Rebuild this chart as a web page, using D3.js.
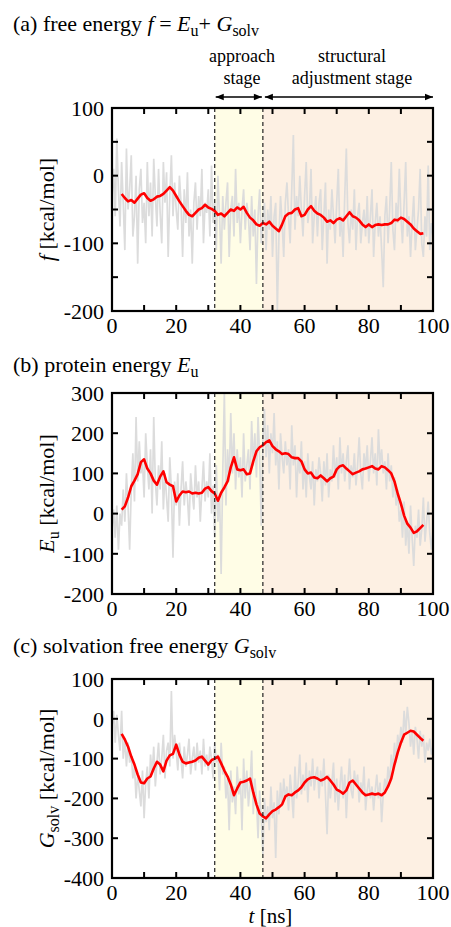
<!DOCTYPE html>
<html>
<head>
<meta charset="utf-8">
<script src="https://cdn.jsdelivr.net/npm/d3@7"></script>
<style>
  body { margin: 0; background: #fff; }
  svg { display: block; }
  text { font-family: "Liberation Serif", "Times New Roman", serif; }
</style>
</head>
<body>
<svg id="chart"></svg>
<script>
// stage boundaries [ns]
const approachStart = 32;
const approachEnd = 47;

// sampling grids [ns]
const rawTime = d3.range(0, 100.5, 0.5);
const avgTime = d3.range(3, 98, 1);

// (a) f = Eu + Gsolv  [kcal/mol]
const fRaw = [
  -30, 10, -60, 55, -20, -75, 20, -40, -110, 40,
  -50, -20, 30, -90, -60, 0, -130, -20, 10, -70,
  -40, -100, 20, -60, -10, -90, 25, -30, -75, 10,
  -55, -100, 20, -40, 5, -120, -30, 30, -60, -10,
  -50, -80, 0, -40, -120, -20, -70, 5, -90, -50,
  -130, -40, -10, -80, -30, -60, 10, -100, -40, -55,
  -20, -90, 15, -70, -40, -110, 0, -60, -130, -30,
  -80, -40, -10, -120, -50, -30, -90, 10, -70, -40,
  -100, -50, -20, -80, -40, -60, -110, -30, -90, -50,
  -160, -60, -20, -100, -60, -40, -110, -50, -80, -30,
  -120, -60, -40, -200, -90, -30, -70, -120, -40, -10,
  -60, -100, -20, 60, -80, -30, -60, 0, -50, -90,
  -30, 20, -70, -50, 10, -100, -60, -30, -90, -40,
  -20, -110, -60, -10, -130, -50, -80, -20, -60, -100,
  -40, 10, -90, -60, -120, -30, 40, -70, -100, -50,
  -80, -20, -110, -60, -40, -100, -70, -50, -90, -30,
  -100, -60, -20, -120, -70, -40, -90, -60, -110, -165,
  -60, -30, -100, -50, 20, -80, -110, -40, -70, 10,
  -60, -100, -40, 20, -90, -60, -120, -70, -30, -110,
  -80, -50, 10, -100, -120, -60, -90, 15, -110, -70,
  -90
];
const fAvg = [
  -27, -33, -38, -36, -40, -34, -28, -26, -33, -37,
  -35, -31, -30, -27, -22, -17, -22, -30, -38, -45,
  -52, -58, -60, -55, -50, -48, -43, -47, -49, -52,
  -58, -56, -60, -55, -50, -52, -47, -50, -46, -55,
  -62, -66, -72, -74, -70, -72, -68, -74, -78, -82,
  -72, -60, -56, -55, -50, -48, -60, -58, -50, -45,
  -52, -56, -58, -62, -68, -66, -70, -65, -63, -66,
  -60, -54, -60, -62, -66, -72, -76, -72, -76, -73,
  -72, -73, -72, -72, -70, -65, -66, -62, -64, -68,
  -72, -78, -82, -86, -85
];

// (b) protein energy Eu [kcal/mol]
const euRaw = [
  -40, 10, -60, 20, -90, 0, -30, 60, -20, 100,
  20, -90, 60, 150, 30, 240, 80, 180, 100, 130,
  40, 200, 120, 60, 160, 0, 240, 80, 20, 120,
  60, 180, 10, 100, 40, -20, 140, 60, -110, 80,
  20, 100, -30, 60, 130, 20, 80, 40, -30, 100,
  50, 10, 120, 40, 80, -20, 60, 130, 30, 80,
  40, 150, 0, 70, -60, 120, -20, 50, -150, 100,
  300, 20, 160, 80, 250, 100, 200, 60, 160, 90,
  140, 40, 200, 80, 120, 160, 60, 230, 120, 200,
  90, 240, 140, -30, 180, 260, 140, 220, 100, 200,
  150, 250, 120, 180, 60, 200, 140, 100, 180, 120,
  160, 60, 220, 120, 170, 40, 140, 100, 180, 60,
  130, 40, 150, 90, 60, 130, 20, 110, 80, 140,
  100, 30, 130, 70, 150, 40, 110, 80, 170, 90,
  140, 60, 190, 100, 150, 80, 130, 170, 60, 120,
  90, 150, 70, 120, 190, 100, 60, 150, 110, 170,
  80, 130, 190, 100, 150, 70, 210, 120, 160, 100,
  130, 60, 150, 80, 120, 40, 90, 20, 60, -20,
  10, -60, 30, -80, -20, -100, 20, -60, -130, -30,
  -60, 10, -80, -40, 40, -70, -20, 30, -50, -90,
  -40
];
const euAvg = [
  10, 18, 40, 68, 82, 98, 128, 135, 112, 100,
  82, 72, 92, 105, 78, 72, 68, 30, 45, 55,
  53, 55, 50, 52, 50, 52, 62, 66, 56, 50,
  32, 52, 65, 80, 115, 140, 110, 108, 110, 98,
  100, 130, 155, 165, 170, 178, 182, 168, 160, 155,
  148, 150, 148, 140, 138, 138, 130, 110, 100, 102,
  90, 88, 95, 88, 80, 88, 92, 110, 118, 120,
  112, 105, 98, 102, 105, 110, 112, 115, 118, 112,
  110, 118, 115, 108, 100, 80, 50, 25, -5, -25,
  -35, -48, -44, -36, -28
];

// (c) solvation free energy Gsolv [kcal/mol]
const gRaw = [
  -20, 20, -60, 10, -40, -80, 20, -100, -50, -120,
  -60, -110, -90, -150, -120, -200, -140, -180, -220, -130,
  -250, -160, -120, -200, -90, -140, -70, -170, -110, -60,
  -140, -100, -40, -150, -80, -60, -120, 70, -100, -40,
  -80, -130, -60, -100, -150, -70, -120, -90, -50, -140,
  -100, -70, -130, -60, -110, -80, -140, -50, -120, -90,
  -130, -70, -100, -150, -60, -110, -90, -180, -60, -140,
  -120, -200, -150, -280, -130, -210, -170, -240, -120, -190,
  -150, -280, -100, -200, -130, -220, -170, -80, -240, -150,
  -200, -300, -180, -250, -340, -200, -260, -220, -280, -170,
  -250, -210, -350, -180, -240, -160, -220, -150, -200, -170,
  -230, -140, -190, -250, -120, -200, -160, -90, -190, -140,
  -180, -110, -210, -130, -170, -100, -180, -140, -120, -200,
  -130, -170, -100, -190, -290, -140, -200, -160, -110, -210,
  -150, -230, -170, -120, -200, -140, -250, -160, -100, -180,
  -200, -130, -170, -140, -210, -160, -190, -120, -230, -180,
  -150, -200, -170, -230, -180, -140, -200, -160, -260, -190,
  -150, -180, -120, -160, -90, -130, -60, -110, -40, -70,
  -20, -60, 20, -40, 30, -10, -70, -30, -90, -20,
  -50, -100, -30, -70, -40, -110, -60, -80, -50, -90,
  -70
];
const gAvg = [
  -38, -52, -70, -95, -115, -140, -160, -162, -150, -145,
  -125, -108, -115, -132, -105, -92, -88, -65, -90, -108,
  -112, -110, -108, -105, -98, -95, -105, -115, -104, -100,
  -95, -112, -130, -145, -165, -192, -175, -160, -158, -155,
  -150, -185, -215, -238, -245, -250, -240, -232, -228, -222,
  -215, -195, -190, -192, -185, -180, -172, -160, -152, -148,
  -147, -150, -155, -152, -146, -155, -165, -178, -182, -188,
  -180, -160, -155, -165, -175, -185, -192, -190, -188, -190,
  -188, -192, -185, -170, -150, -115, -85, -60, -40, -35,
  -30, -32, -40, -48, -55
];

const xTicks = d3.range(0, 101, 10);
const xLabels = d3.range(0, 101, 20);

const W = 451, H = 927;
const svg = d3.select("#chart").attr("width", W).attr("height", H)
  .attr("font-family", "Liberation Serif");

const x = d3.scaleLinear().domain([0, 100]).range([112, 433]);

const panels = [
  { id: "a", top: 108, bottom: 311, domain: [-200, 100],
    ticks: d3.range(-200, 101, 50), labels: [-200, -100, 0, 100],
    raw: fRaw, avg: fAvg, titleY: 31 },
  { id: "b", top: 393, bottom: 594, domain: [-200, 300],
    ticks: d3.range(-200, 301, 100), labels: d3.range(-200, 301, 100),
    raw: euRaw, avg: euAvg, titleY: 372 },
  { id: "c", top: 679, bottom: 878, domain: [-400, 100],
    ticks: d3.range(-400, 101, 100), labels: d3.range(-400, 101, 100),
    raw: gRaw, avg: gAvg, titleY: 653 }
];

const defs = svg.append("defs");
defs.append("marker").attr("id", "head")
  .attr("viewBox", "0 0 10 10").attr("refX", 10).attr("refY", 5)
  .attr("markerWidth", 10).attr("markerHeight", 8)
  .attr("markerUnits", "userSpaceOnUse")
  .attr("orient", "auto-start-reverse")
  .append("path").attr("d", "M0,1 L10,5 L0,9 Z").attr("fill", "#000");

panels.forEach(p => {
  const y = d3.scaleLinear().domain(p.domain).range([p.bottom, p.top]);
  const g = svg.append("g");

  defs.append("clipPath").attr("id", "clip-" + p.id)
    .append("rect")
    .attr("x", x(0)).attr("y", p.top)
    .attr("width", x(100) - x(0)).attr("height", p.bottom - p.top);

  // stage shading
  g.append("rect")
    .attr("x", x(approachStart)).attr("y", p.top)
    .attr("width", x(approachEnd) - x(approachStart)).attr("height", p.bottom - p.top)
    .attr("fill", "#fffde6");
  g.append("rect")
    .attr("x", x(approachEnd)).attr("y", p.top)
    .attr("width", x(100) - x(approachEnd)).attr("height", p.bottom - p.top)
    .attr("fill", "#fdf0e3");

  const plot = g.append("g").attr("clip-path", `url(#clip-${p.id})`);

  plot.append("path")
    .datum(p.raw)
    .attr("d", d3.line().x((d, i) => x(rawTime[i])).y(d => y(d)))
    .attr("fill", "none")
    .attr("stroke", "#dcdcdc")
    .attr("stroke-width", 1.7);

  plot.append("path")
    .datum(p.avg)
    .attr("d", d3.line().x((d, i) => x(avgTime[i])).y(d => y(d)))
    .attr("fill", "none")
    .attr("stroke", "#ff0000")
    .attr("stroke-width", 2.6)
    .attr("stroke-linejoin", "round");

  [approachStart, approachEnd].forEach(t => {
    g.append("line")
      .attr("x1", x(t)).attr("x2", x(t))
      .attr("y1", p.top).attr("y2", p.bottom)
      .attr("stroke", "#222").attr("stroke-width", 1.2)
      .attr("stroke-dasharray", "4,3");
  });

  // ticks inward on all four sides
  const tl = 6;
  xTicks.forEach(t => {
    g.append("line").attr("x1", x(t)).attr("x2", x(t))
      .attr("y1", p.bottom).attr("y2", p.bottom - tl)
      .attr("stroke", "#000").attr("stroke-width", 2);
    g.append("line").attr("x1", x(t)).attr("x2", x(t))
      .attr("y1", p.top).attr("y2", p.top + tl)
      .attr("stroke", "#000").attr("stroke-width", 2);
  });
  p.ticks.forEach(t => {
    g.append("line").attr("x1", x(0)).attr("x2", x(0) + tl)
      .attr("y1", y(t)).attr("y2", y(t))
      .attr("stroke", "#000").attr("stroke-width", 2);
    g.append("line").attr("x1", x(100)).attr("x2", x(100) - tl)
      .attr("y1", y(t)).attr("y2", y(t))
      .attr("stroke", "#000").attr("stroke-width", 2);
  });

  g.append("rect")
    .attr("x", x(0)).attr("y", p.top)
    .attr("width", x(100) - x(0)).attr("height", p.bottom - p.top)
    .attr("fill", "none").attr("stroke", "#000").attr("stroke-width", 2.2);

  g.selectAll(".ylab").data(p.labels).join("text")
    .attr("x", 104).attr("y", d => y(d)).attr("dy", "0.35em")
    .attr("text-anchor", "end").attr("font-size", 22)
    .text(d => d);

  g.selectAll(".xlab").data(xLabels).join("text")
    .attr("x", d => x(d)).attr("y", p.bottom + 21.5)
    .attr("text-anchor", "middle").attr("font-size", 22)
    .text(d => d);
});

// titles
function sub(t, s) { t.append("tspan").attr("dy", 5).attr("font-size", 16).text(s); }
function unsub(t, s) { t.append("tspan").attr("dy", -5).text(s); }

let t = svg.append("text").attr("x", 13).attr("y", panels[0].titleY).attr("font-size", 22);
t.append("tspan").text("(a) free energy ");
t.append("tspan").attr("font-style", "italic").text("f");
t.append("tspan").text(" = ");
t.append("tspan").attr("font-style", "italic").text("E");
sub(t, "u");
unsub(t, "+ ");
t.append("tspan").attr("font-style", "italic").text("G");
sub(t, "solv");

t = svg.append("text").attr("x", 13).attr("y", panels[1].titleY).attr("font-size", 22);
t.append("tspan").text("(b) protein energy ");
t.append("tspan").attr("font-style", "italic").text("E");
sub(t, "u");

t = svg.append("text").attr("x", 13).attr("y", panels[2].titleY).attr("font-size", 22);
t.append("tspan").text("(c) solvation free energy ");
t.append("tspan").attr("font-style", "italic").text("G");
sub(t, "solv");

// y axis titles
function yTitle(p, build) {
  const cy = (p.top + p.bottom) / 2;
  const tt = svg.append("text")
    .attr("transform", `translate(54,${cy}) rotate(-90)`)
    .attr("text-anchor", "middle").attr("font-size", 22);
  build(tt);
}
yTitle(panels[0], tt => {
  tt.append("tspan").attr("font-style", "italic").text("f");
  tt.append("tspan").text("  [kcal/mol]");
});
yTitle(panels[1], tt => {
  tt.append("tspan").attr("font-style", "italic").text("E");
  tt.append("tspan").attr("dy", 5).attr("font-size", 16).text("u");
  tt.append("tspan").attr("dy", -5).text("  [kcal/mol]");
});
yTitle(panels[2], tt => {
  tt.append("tspan").attr("font-style", "italic").text("G");
  tt.append("tspan").attr("dy", 5).attr("font-size", 16).text("solv");
  tt.append("tspan").attr("dy", -5).text("  [kcal/mol]");
});

// x axis title
t = svg.append("text").attr("x", x(50) - 2).attr("y", 923)
  .attr("text-anchor", "middle").attr("font-size", 21);
t.append("tspan").attr("font-style", "italic").text("t");
t.append("tspan").text(" [ns]");

// stage annotations
const arrowY = 97;
svg.append("line")
  .attr("x1", x(approachStart) + 1).attr("x2", x(approachEnd) - 1)
  .attr("y1", arrowY).attr("y2", arrowY)
  .attr("stroke", "#000").attr("stroke-width", 1.6)
  .attr("marker-start", "url(#head)").attr("marker-end", "url(#head)");
svg.append("line")
  .attr("x1", x(approachEnd) + 2).attr("x2", x(100))
  .attr("y1", arrowY).attr("y2", arrowY)
  .attr("stroke", "#000").attr("stroke-width", 1.6)
  .attr("marker-start", "url(#head)").attr("marker-end", "url(#head)");

const ann = svg.append("g").attr("font-size", 18).attr("text-anchor", "middle");
ann.append("text").attr("x", 242).attr("y", 62).text("approach");
ann.append("text").attr("x", 242).attr("y", 84).text("stage");
ann.append("text").attr("x", 352).attr("y", 62).text("structural");
ann.append("text").attr("x", 352).attr("y", 84).text("adjustment stage");
</script>
</body>
</html>
